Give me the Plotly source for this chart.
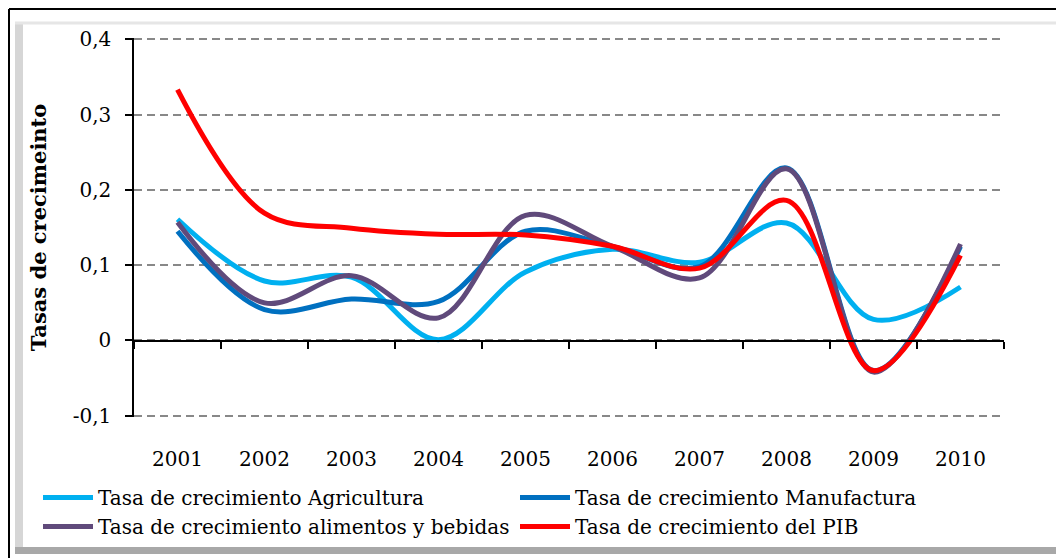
import plotly.graph_objects as go

years = [2001, 2002, 2003, 2004, 2005, 2006, 2007, 2008, 2009, 2010]
agricultura = [0.161, 0.079, 0.084, 0.001, 0.091, 0.121, 0.104, 0.156, 0.028, 0.071]
manufactura = [0.145, 0.041, 0.055, 0.052, 0.145, 0.125, 0.098, 0.229, -0.040, 0.125]
alimentos = [0.157, 0.050, 0.086, 0.030, 0.166, 0.125, 0.083, 0.228, -0.042, 0.128]
pib = [0.333, 0.169, 0.149, 0.141, 0.140, 0.125, 0.096, 0.186, -0.040, 0.113]

names = ["Tasa de crecimiento Agricultura", "Tasa de crecimiento Manufactura",
         "Tasa de crecimiento alimentos y bebidas", "Tasa de crecimiento del PIB"]
colors = ["#00B0F0", "#0070C0", "#604A7B", "#FF0000"]

y_ticks = [-0.1, 0, 0.1, 0.2, 0.3, 0.4]
y_labels = ["-0,1", "0", "0,1", "0,2", "0,3", "0,4"]

FONT = "DejaVu Serif"

fig = go.Figure()
for name, vals, col in zip(names, [agricultura, manufactura, alimentos, pib], colors):
    fig.add_trace(go.Scatter(
        x=years, y=vals, name=name, mode="lines",
        line=dict(color=col, width=5, shape="spline", smoothing=1.0),
    ))

# axis line at y = 0 with ticks between categories
fig.add_trace(go.Scatter(x=[years[0]], y=[0], xaxis="x2", mode="markers",
                         marker=dict(opacity=0), showlegend=False, hoverinfo="skip"))

# page body has an 8px margin, so work in screenshot coords shifted by 8
OFF = 8
W, H = 1064 - OFF, 558 - OFF
L, R, T, B = 134 - OFF, 1064 - 1004, 38 - OFF, 558 - 417
pw, ph = W - L - R, H - T - B


def px(x):
    return (x - OFF - L) / pw


def py(y):
    return (H - B - (y - OFF)) / ph


pad = 0.0016

fig.update_layout(
    width=W, height=H,
    margin=dict(l=L, r=R, t=T, b=B, autoexpand=False),
    paper_bgcolor="white", plot_bgcolor="white",
    font=dict(family=FONT, size=20, color="black"),
    xaxis=dict(
        range=[years[0] - 0.5, years[-1] + 0.5],
        tickvals=years, ticktext=[str(y) for y in years],
        showgrid=False, zeroline=False, showline=False, ticks="",
        tickfont=dict(size=20), ticklabelstandoff=28, automargin=False,
    ),
    xaxis2=dict(
        overlaying="x", anchor="free", position=py(341),
        range=[years[0] - 0.5, years[-1] + 0.5],
        tickvals=[y - 0.5 for y in years] + [years[-1] + 0.5],
        showticklabels=False, ticks="outside", ticklen=7, tickwidth=1.5, tickcolor="black",
        showline=True, linecolor="black", linewidth=1.5, showgrid=False, zeroline=False,
    ),
    yaxis=dict(
        range=[-0.1 - pad, 0.4 + pad],
        tickvals=y_ticks, ticktext=y_labels,
        showgrid=True, gridcolor="#888888", gridwidth=1.5, griddash="8px,5px",
        zeroline=False, showline=True, linecolor="black", linewidth=1.5,
        ticks="outside", ticklen=7, tickwidth=1.5, tickcolor="black",
        tickfont=dict(size=20), ticklabelstandoff=10, automargin=False,
        title=dict(text="<b>Tasas de crecimeinto</b>", font=dict(size=21), standoff=20),
    ),
    legend=dict(
        orientation="h", x=px(38), y=py(478), xanchor="left", yanchor="top",
        entrywidth=412, font=dict(size=20), tracegroupgap=0,
        bgcolor="rgba(0,0,0,0)", itemwidth=50,
    ),
    shapes=[
        # outer black border
        dict(type="line", xref="paper", yref="paper",
             x0=px(9), x1=px(9), y0=py(9), y1=py(570),
             line=dict(color="black", width=2)),
        dict(type="line", xref="paper", yref="paper",
             x0=px(9), x1=px(1070), y0=py(9), y1=py(9),
             line=dict(color="black", width=2)),
        # beveled inner frame
        dict(type="rect", xref="paper", yref="paper",
             x0=px(15), x1=px(23), y0=py(22), y1=py(550),
             fillcolor="#d6d6d6", line=dict(width=0), layer="below"),
        dict(type="line", xref="paper", yref="paper",
             x0=px(15), x1=px(1060), y0=py(23), y1=py(23),
             line=dict(color="#e6e6e6", width=3)),
        dict(type="line", xref="paper", yref="paper",
             x0=px(1061), x1=px(1061), y0=py(20), y1=py(553),
             line=dict(color="#6e6e6e", width=4)),
        dict(type="rect", xref="paper", yref="paper",
             x0=px(15), x1=px(1063), y0=py(547), y1=py(554),
             fillcolor="#a8a8a8", line=dict(width=0)),
    ],
)

fig.write_html("out.html")
